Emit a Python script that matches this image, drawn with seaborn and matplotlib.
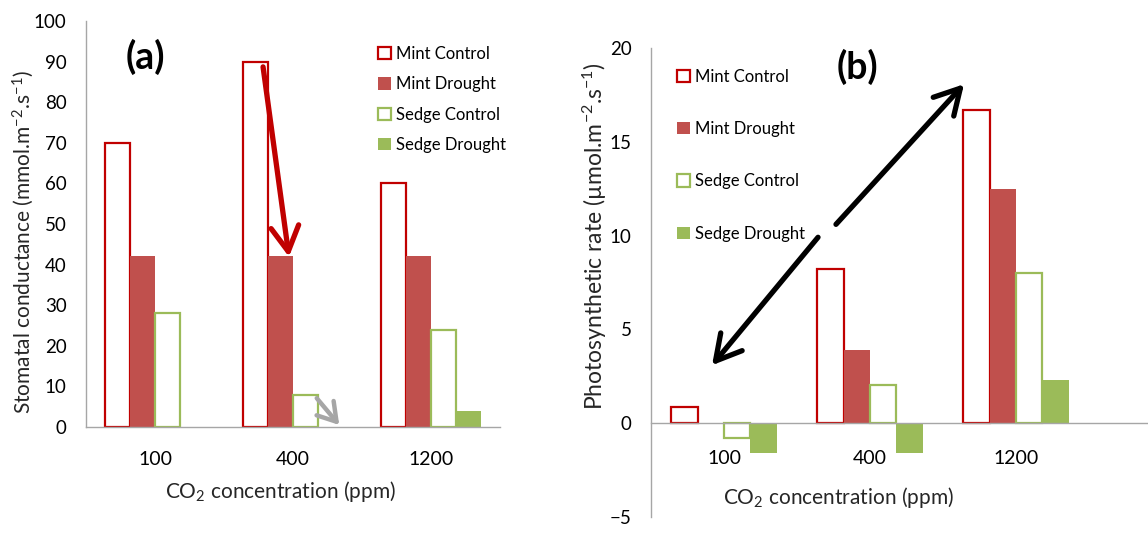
import matplotlib
matplotlib.use("Agg")
import matplotlib.pyplot as plt
import matplotlib.patches as mpatches
import pandas as pd
import seaborn as sns

# --- data ---
co2_levels = ["100", "400", "1200"]
treatments = ["Mint Control", "Mint Drought", "Sedge Control", "Sedge Drought"]

# (a) stomatal conductance, mmol m-2 s-1
cond_mint_control = [70, 90, 60]
cond_mint_drought = [42, 42, 42]
cond_sedge_control = [28, 8, 24]
cond_sedge_drought = [0, 0, 4]

# (b) photosynthetic rate, umol m-2 s-1
photo_mint_control = [0.85, 8.2, 16.7]
photo_mint_drought = [0, 3.9, 12.5]
photo_sedge_control = [-0.8, 2.05, 8.0]
photo_sedge_drought = [-1.6, -1.6, 2.3]

colors = {"Mint Control": "#C00000", "Mint Drought": "#C0504D",
          "Sedge Control": "#9BBB59", "Sedge Drought": "#9BBB59"}
hollow = {"Mint Control": True, "Mint Drought": False,
          "Sedge Control": True, "Sedge Drought": False}
AXIS_GRAY = "#A6A6A6"


def make_frame(series):
    rows = []
    for name, vals in zip(treatments, series):
        for c, v in zip(co2_levels, vals):
            rows.append({"co2": c, "treatment": name, "value": v})
    return pd.DataFrame(rows)


def draw_bars(ax, df):
    sns.barplot(data=df, x="co2", y="value", hue="treatment", order=co2_levels,
                hue_order=treatments, width=0.72, gap=0, errorbar=None,
                legend=False, ax=ax)
    for cont, name in zip(ax.containers, treatments):
        for bar in cont:
            if hollow[name]:
                bar.set_facecolor("white")
                bar.set_edgecolor(colors[name])
                bar.set_linewidth(1.6)
            else:
                bar.set_facecolor(colors[name])
                bar.set_edgecolor("none")
                bar.set_linewidth(0)


def style_axes(ax, minor_ticks):
    for s in ["top", "right"]:
        ax.spines[s].set_visible(False)
    for s in ["left", "bottom"]:
        ax.spines[s].set_color(AXIS_GRAY)
        ax.spines[s].set_linewidth(1)
    ax.set_xticks(range(len(co2_levels)))
    ax.set_xticklabels(co2_levels)
    ax.set_xticks(minor_ticks, minor=True)
    ax.tick_params(axis="x", which="major", length=0, pad=17, labelsize=14)
    ax.tick_params(axis="x", which="minor", length=6, color=AXIS_GRAY, direction="out")
    ax.tick_params(axis="y", length=6, color=AXIS_GRAY, pad=8, labelsize=13.5)
    ax.grid(False)


def legend_handles():
    hs = []
    for name in treatments:
        if hollow[name]:
            hs.append(mpatches.Patch(facecolor="white", edgecolor=colors[name],
                                     linewidth=1.6, label=name))
        else:
            hs.append(mpatches.Patch(facecolor=colors[name], edgecolor="none",
                                     label=name))
    return hs


sns.set_style("white")
plt.rcParams["font.family"] = ["Lato", "DejaVu Sans"]
plt.rcParams["mathtext.fontset"] = "custom"
plt.rcParams["mathtext.rm"] = "Lato"
plt.rcParams["mathtext.it"] = "Lato:italic"
plt.rcParams["mathtext.bf"] = "Lato:bold"
plt.rcParams["text.color"] = "black"
plt.rcParams["xtick.color"] = "black"
plt.rcParams["ytick.color"] = "black"

W, H = 1148, 537
fig = plt.figure(figsize=(W / 100, H / 100), dpi=100)

# ---------------- panel (a) ----------------
ax1 = fig.add_axes([86 / W, 1 - 427 / H, 414 / W, 406 / H])
draw_bars(ax1, make_frame([cond_mint_control, cond_mint_drought,
                           cond_sedge_control, cond_sedge_drought]))
style_axes(ax1, [0.5, 1.5, 2.5])
ax1.set_xlim(-0.5, 2.5)
ax1.set_ylim(0, 100)
ax1.set_yticks(range(0, 101, 10))
ax1.set_xlabel("CO$_2$ concentration (ppm)", fontsize=15)
ax1.xaxis.label.set_va("center")
ax1.xaxis.set_label_coords((280 - 86) / 414, (427 - 492) / 406)
ax1.set_ylabel("Stomatal conductance (mmol.m$^{-2}$.s$^{-1}$)", fontsize=15)
ax1.yaxis.label.set_va("center")
ax1.yaxis.set_label_coords((23 - 86) / 414, (427 - 242) / 406)

ax1.annotate("", xy=(0.971, 41.9), xytext=(0.783, 88.7),
             arrowprops=dict(arrowstyle="->,head_length=0.9,head_width=0.5",
                             lw=3.8, color="#C00000", mutation_scale=20,
                             shrinkA=0, shrinkB=0))
ax1.annotate("", xy=(1.335, 0.5), xytext=(1.172, 7.1),
             arrowprops=dict(arrowstyle="->,head_length=0.8,head_width=0.5",
                             lw=3.2, color="#A6A6A6", mutation_scale=16,
                             shrinkA=0, shrinkB=0))

ax1.legend(handles=legend_handles(), loc="upper left", frameon=False,
           bbox_to_anchor=(378 / W, 1 - 46 / H), bbox_transform=fig.transFigure,
           borderpad=0, borderaxespad=0, handlelength=0.75, handleheight=0.75,
           handletextpad=0.35, labelspacing=0.86, fontsize=12)

# ---------------- panel (b) ----------------
ax2 = fig.add_axes([651 / W, 1 - 517 / H, (W - 651) / W, 469 / H])
draw_bars(ax2, make_frame([photo_mint_control, photo_mint_drought,
                           photo_sedge_control, photo_sedge_drought]))
style_axes(ax2, [0.5, 1.5])
ax2.spines["bottom"].set_position(("data", 0))
ax2.set_xlim(-0.5, 2.5 + (W - 1089) / 146)
ax2.set_ylim(-5, 20)
ax2.set_yticks(range(-5, 21, 5))
ax2.tick_params(axis="x", which="major", pad=19)
ax2.set_xlabel("CO$_2$ concentration (ppm)", fontsize=15)
ax2.xaxis.label.set_va("center")
ax2.xaxis.set_label_coords((838 - 651) / (W - 651), (517 - 497) / 469)
ax2.set_ylabel("Photosynthetic rate (µmol.m$^{-2}$.s$^{-1}$)", fontsize=16.5)
ax2.yaxis.label.set_va("center")
ax2.yaxis.set_label_coords((595 - 651) / (W - 651), (517 - 236) / 469)

black_arrow = dict(arrowstyle="->,head_length=0.9,head_width=0.5", lw=3.8,
                   color="black", mutation_scale=20, shrinkA=0, shrinkB=0)
ax2.annotate("", xy=(-0.082, 3.09), xytext=(0.644, 9.91), arrowprops=black_arrow)
ax2.annotate("", xy=(1.644, 18.07), xytext=(0.767, 10.6), arrowprops=black_arrow)

ax2.legend(handles=legend_handles(), loc="upper left", frameon=False,
           bbox_to_anchor=(677 / W, 1 - 69 / H), bbox_transform=fig.transFigure,
           borderpad=0, borderaxespad=0, handlelength=0.75, handleheight=0.75,
           handletextpad=0.35, labelspacing=2.17, fontsize=12)

fig.text(145 / W, 1 - 57 / H, "(a)", fontsize=27, fontweight="bold",
         ha="center", va="center")
fig.text(857 / W, 1 - 67 / H, "(b)", fontsize=27, fontweight="bold",
         ha="center", va="center")

fig.savefig("out.png", dpi=100)
